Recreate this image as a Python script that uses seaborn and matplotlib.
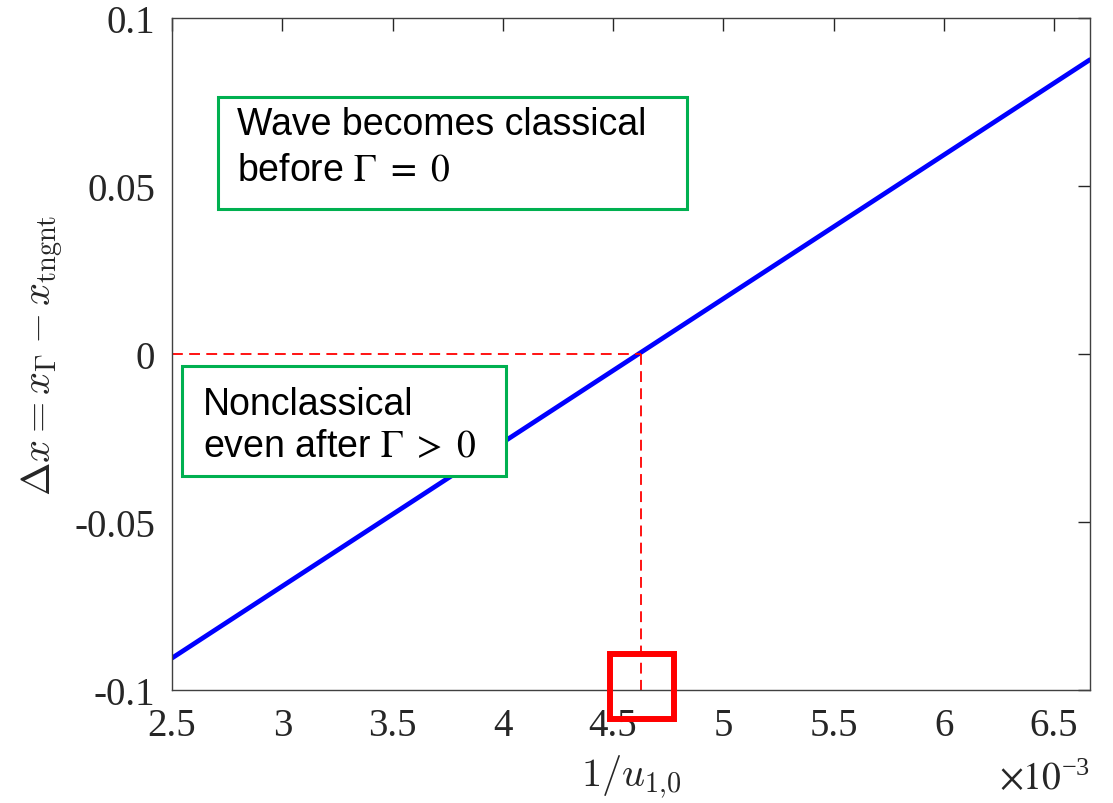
import matplotlib
matplotlib.use("Agg")
import matplotlib.pyplot as plt
import seaborn as sns
import pandas as pd
from matplotlib.patches import Rectangle

# Data (x in units of 1e-3)
x_vals = [2.5, 6.663]
dx_vals = [-0.0905, 0.0876]
x_zero = 4.627
xticks = [2.5, 3, 3.5, 4, 4.5, 5, 5.5, 6, 6.5]
xtick_labels = ["2.5", "3", "3.5", "4", "4.5", "5", "5.5", "6", "6.5"]
yticks = [-0.1, -0.05, 0, 0.05, 0.1]
ytick_labels = ["-0.1", "-0.05", "0", "0.05", "0.1"]

sns.set_theme(style="white")
plt.rcParams["font.family"] = ["Liberation Serif", "DejaVu Serif"]
plt.rcParams["mathtext.fontset"] = "stix"
plt.rcParams["axes.unicode_minus"] = False

fig = plt.figure(figsize=(11.13, 8.04), dpi=100)
ax = fig.add_axes([172/1113, 1 - 691/804, 918/1113, 672/804])

df = pd.DataFrame({"x": x_vals, "dx": dx_vals})
sns.lineplot(data=df, x="x", y="dx", ax=ax, color="#0000FF", lw=3.4)

# red dashed guide lines
ax.plot([2.5, x_zero], [0, 0], color="#FF0000", ls=(0, (6, 3.5)), lw=1.3)
ax.plot([x_zero, x_zero], [0, -0.1], color="#FF0000", ls=(0, (6, 3.5)), lw=1.3)

# red square marker
ax.add_patch(Rectangle((4.487, -0.1086), 0.29, 0.0193, fill=False,
                       edgecolor="#FF0000", lw=4.3, clip_on=False, zorder=5))

ax.set_xlim(2.5, 6.663)
ax.set_ylim(-0.1, 0.1)
ax.set_xticks(xticks)
ax.set_xticklabels(xtick_labels)
ax.set_yticks(yticks)
ax.set_yticklabels(ytick_labels)
ax.tick_params(direction="in", length=9, width=1, top=True, right=True,
               labelsize=28, colors="#262626", pad=12)
ax.tick_params(axis="x", pad=12)
for s in ax.spines.values():
    s.set_color("#404040")
    s.set_linewidth(1.0)

ax.set_xlabel(r"$1/u_{1{,}0}$", fontsize=29, labelpad=6, color="#262626",
              math_fontfamily="cm")
ax.set_ylabel(r"$\Delta x = x_\Gamma - x_{\rm tngnt}$", fontsize=29, labelpad=6,
              color="#262626", math_fontfamily="cm")
ax.text(1.0, -0.105, r"$\times10^{\mathregular{-3}}$", transform=ax.transAxes,
        ha="right", va="top", fontsize=27, color="#262626")

green = "#00B050"
def box(x0, x1, ytop, ybot):
    ax.add_patch(Rectangle((x0, ybot), x1 - x0, ytop - ybot, transform=ax.transAxes,
                           fill=True, facecolor="white", edgecolor=green, lw=2.2,
                           zorder=6))

box(0.0501, 0.561, 0.8824, 0.7158)
box(0.0109, 0.3638, 0.4821, 0.3185)
tf = dict(transform=ax.transAxes, fontsize=27, family=["Liberation Sans", "DejaVu Sans"],
          color="black", va="baseline", ha="left", zorder=7)
ax.text(0.0708, 0.8274, "Wave becomes classical", **tf)
ax.text(0.0708, 0.7604, r"before $\Gamma\ =\ 0$", **tf)
ax.text(0.0338, 0.4107, "Nonclassical", **tf)
ax.text(0.0338, 0.3482, r"even after $\Gamma\ >\ 0$", **tf)

fig.savefig("out.png", dpi=100)
